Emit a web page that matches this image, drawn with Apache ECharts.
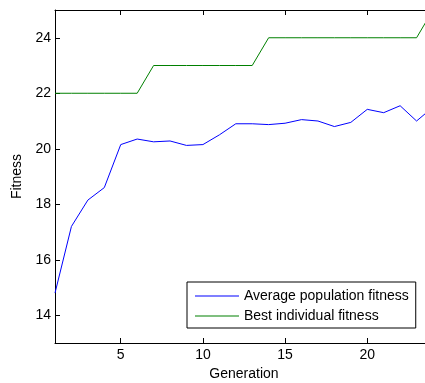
<!DOCTYPE html>
<html>
<head>
<meta charset="utf-8">
<script src="https://cdn.jsdelivr.net/npm/echarts@6/dist/echarts.min.js"></script>
<style>
html, body { margin: 0; padding: 0; background: #fff; }
#chart { width: 425px; height: 383px; }
</style>
</head>
<body>
<div id="chart"></div>
<script>
// generations 1..24
var generations = [1, 2, 3, 4, 5, 6, 7, 8, 9, 10, 11, 12, 13, 14, 15, 16, 17, 18, 19, 20, 21, 22, 23, 24];
var avgFitness = [14.8, 17.2, 18.15, 18.6, 20.15, 20.35, 20.25, 20.28, 20.12, 20.15, 20.5, 20.9, 20.9, 20.87, 20.92, 21.05, 21.0, 20.8, 20.95, 21.42, 21.3, 21.55, 21.0, 21.5];
var bestFitness = [22, 22, 22, 22, 22, 22, 23, 23, 23, 23, 23, 23, 23, 24, 24, 24, 24, 24, 24, 24, 24, 24, 24, 25];
var xTicks = [5, 10, 15, 20];
var yTicks = [14, 16, 18, 20, 22, 24];

var font = 'Liberation Sans, Arial, sans-serif';

function pairs(ys) {
	var out = [];
	for (var i = 0; i < generations.length; i++) {
		out.push([generations[i], ys[i]]);
	}
	return out;
}

var myChart = echarts.init(document.getElementById('chart'));
myChart.setOption({
	animation: false,
	backgroundColor: '#fff',
	textStyle: { fontFamily: font },
	// axis runs a little past the right edge (picture is cropped)
	grid: { left: 55, top: 10, bottom: 40, right: -8, outerBoundsMode: 'none' },
	legend: {
		orient: 'vertical',
		left: 187,
		top: 282,
		padding: [7, 7, 5, 8],
		icon: 'rect',
		itemWidth: 44,
		itemHeight: 1,
		itemGap: 6,
		borderColor: '#000',
		borderWidth: 1,
		backgroundColor: '#fff',
		textStyle: { fontFamily: font, fontSize: 14, lineHeight: 14, color: '#000' },
		data: ['Average population fitness', 'Best individual fitness']
	},
	xAxis: [{
		type: 'value',
		min: 1,
		max: 24,
		name: 'Generation',
		nameLocation: 'middle',
		nameGap: 24,
		nameTextStyle: { fontFamily: font, fontSize: 14, color: '#000' },
		axisLine: { lineStyle: { color: '#000', width: 1 } },
		axisTick: { inside: true, length: 5, customValues: xTicks, lineStyle: { color: '#000' } },
		axisLabel: { customValues: xTicks, margin: 5, fontFamily: font, fontSize: 14, color: '#000' },
		splitLine: { show: false }
	}, {
		type: 'value',
		position: 'top',
		min: 1,
		max: 24,
		axisLine: { show: true, lineStyle: { color: '#000', width: 1 } },
		axisTick: { show: true, inside: true, length: 5, customValues: xTicks, lineStyle: { color: '#000' } },
		axisLabel: { show: false },
		splitLine: { show: false }
	}],
	yAxis: {
		type: 'value',
		min: 13,
		max: 25,
		name: 'Fitness',
		nameLocation: 'middle',
		nameGap: 25,
		nameTextStyle: { fontFamily: font, fontSize: 14, color: '#000' },
		axisLine: { show: true, lineStyle: { color: '#000', width: 1 } },
		axisTick: { show: true, inside: true, length: 5, customValues: yTicks, lineStyle: { color: '#000' } },
		axisLabel: { customValues: yTicks, margin: 4, fontFamily: font, fontSize: 14, color: '#000' },
		splitLine: { show: false }
	},
	series: [{
		name: 'Average population fitness',
		type: 'line',
		symbol: 'none',
		data: pairs(avgFitness),
		lineStyle: { color: '#0000ff', width: 1 },
		itemStyle: { color: '#0000ff' }
	}, {
		name: 'Best individual fitness',
		type: 'line',
		symbol: 'none',
		data: pairs(bestFitness),
		lineStyle: { color: '#008000', width: 1 },
		itemStyle: { color: '#008000' }
	}]
});
</script>
</body>
</html>
